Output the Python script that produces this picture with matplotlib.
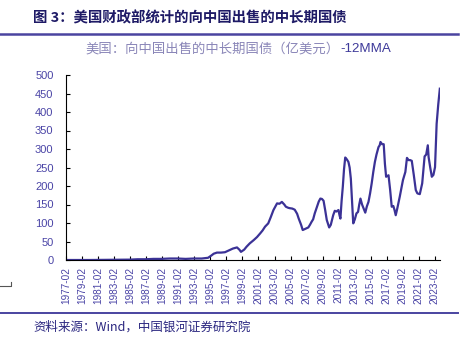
import numpy as np
import matplotlib
matplotlib.use("Agg")
import matplotlib.pyplot as plt

plt.rcParams['font.family'] = ['Noto Sans CJK SC', 'DejaVu Sans']

# decimal year, value (100m USD, 12-month moving average)
years = [1977.1, 1980.0, 1983.0, 1985.0, 1986.0, 1987.0, 1988.0, 1989.0, 1990.0,
         1991.0, 1992.0, 1993.0, 1994.0, 1994.8, 1995.2, 1995.5, 1995.9, 1996.4,
         1996.9, 1997.4, 1997.9, 1998.4, 1998.7, 1998.9, 1999.3, 1999.6, 2000.0,
         2000.5, 2000.9, 2001.3, 2001.6, 2001.9, 2002.3, 2002.6, 2002.95, 2003.2,
         2003.4, 2003.7, 2004.0, 2004.3, 2004.5, 2004.8, 2005.0, 2005.3, 2005.6,
         2005.9, 2006.1, 2006.4, 2006.6, 2006.9, 2007.3, 2007.5, 2007.7, 2007.9,
         2008.1, 2008.4, 2008.6, 2008.8, 2009.0, 2009.2, 2009.4, 2009.6, 2009.9,
         2010.1, 2010.4, 2010.6, 2010.8, 2011.05, 2011.2, 2011.3, 2011.45, 2011.6,
         2011.75, 2011.9, 2012.1, 2012.3, 2012.45, 2012.6, 2012.75, 2012.9, 2013.1,
         2013.3, 2013.5, 2013.65, 2013.8, 2014.0, 2014.2, 2014.4, 2014.6, 2014.8,
         2015.0, 2015.2, 2015.4, 2015.6, 2015.8, 2016.05, 2016.2, 2016.3, 2016.5,
         2016.7, 2016.85, 2017.0, 2017.3, 2017.5, 2017.7, 2017.9, 2018.05, 2018.2,
         2018.4, 2018.7, 2019.1, 2019.4, 2019.6, 2019.8, 2020.0, 2020.2, 2020.45,
         2020.7, 2020.9, 2021.2, 2021.5, 2021.8, 2022.0, 2022.2, 2022.3, 2022.5,
         2022.7, 2022.9, 2023.1, 2023.3, 2023.5, 2023.7]
values = [0, 0, 0.5, 1, 2, 2, 3, 3, 4,
          4, 3, 4, 4, 6, 12, 17, 20, 20,
          21, 26, 31, 34, 28, 22, 28, 36, 45,
          54, 62, 72, 80, 90, 99, 115, 135, 145,
          153, 152, 157, 150, 144, 141, 140, 139, 136,
          125, 112, 95, 81, 84, 88, 95, 103, 110,
          126, 145, 158, 166, 165, 160, 135, 108, 88,
          95, 121, 133, 131, 135, 120, 112, 160, 198,
          245, 277, 272, 265, 250, 220, 160, 99, 110,
          126, 130, 150, 166, 150, 139, 128, 145, 157,
          180, 207, 238, 265, 285, 305, 310, 319, 313,
          313, 260, 225, 229, 190, 144, 146, 135, 121,
          140, 171, 216, 238, 276, 270, 270, 268, 230,
          189, 180, 178, 207, 280, 285, 310, 278, 250,
          225, 230, 251, 368, 420, 463]

tick_years = list(range(1977, 2024, 2))
tick_labels = [f"{y}-02" for y in tick_years]

line_color = "#3b3296"
text_color = "#4a44a6"

fig = plt.figure(figsize=(4.65, 3.39), dpi=100)
ax = fig.add_axes([66/465, 1-260/339, (440-66)/465, (260-75)/339])

ax.plot(years, values, color=line_color, lw=1.6)
ax.set_ylim(0, 500)
ax.set_xlim(1977.08, 2023.72)
ax.set_yticks(range(0, 501, 50))
ax.set_xticks([y + 1/12 for y in tick_years])
ax.set_xticklabels(tick_labels, rotation=90, family='Liberation Sans',
                   fontsize=7.2, color=text_color)
for lab in ax.get_yticklabels():
    lab.set_family('Liberation Sans')
ax.tick_params(axis='y', direction='in', length=3, labelsize=8,
               labelcolor=text_color, pad=9)
ax.tick_params(axis='x', direction='in', length=3, pad=5)
for s in ['top', 'right']:
    ax.spines[s].set_visible(False)
ax.spines['left'].set_linewidth(0.8)
ax.spines['bottom'].set_linewidth(0.8)

# title and frame lines
fig.text(33/465, 1-18/339, "图 3：美国财政部统计的向中国出售的中长期国债",
         fontsize=10.4, fontweight='bold', color="#1e1a66", va='center')
fig.add_artist(plt.Line2D([0, 458/465], [1-34/339, 1-34/339],
                          color="#4a44a0", lw=1.8))
fig.add_artist(plt.Line2D([0, 458/465], [1-313/339, 1-313/339],
                          color="#4a44a0", lw=1.4))
t1 = fig.text(85/465, 1-49/339, "美国：向中国出售的中长期国债（亿美元）",
              fontsize=9.6, color="#8a86b8", va='center')
fig.canvas.draw()
bb = t1.get_window_extent()
fig.text(bb.x1/465 + 1/465, 1-49/339, "-12MMA", fontsize=9.6, color="#3e3a9a",
         va='center', family='Liberation Sans')
fig.text(33/465, 1-327/339, "资料来源：Wind，中国银河证券研究院",
         fontsize=9, color="#2a2680", va='center', style='italic')

# small stray mark at left
fig.add_artist(plt.Line2D([0, 11/465, 11/465], [1-286/339, 1-286/339, 1-282/339],
                          color="#555555", lw=0.8))

fig.savefig("out.png", dpi=100)
